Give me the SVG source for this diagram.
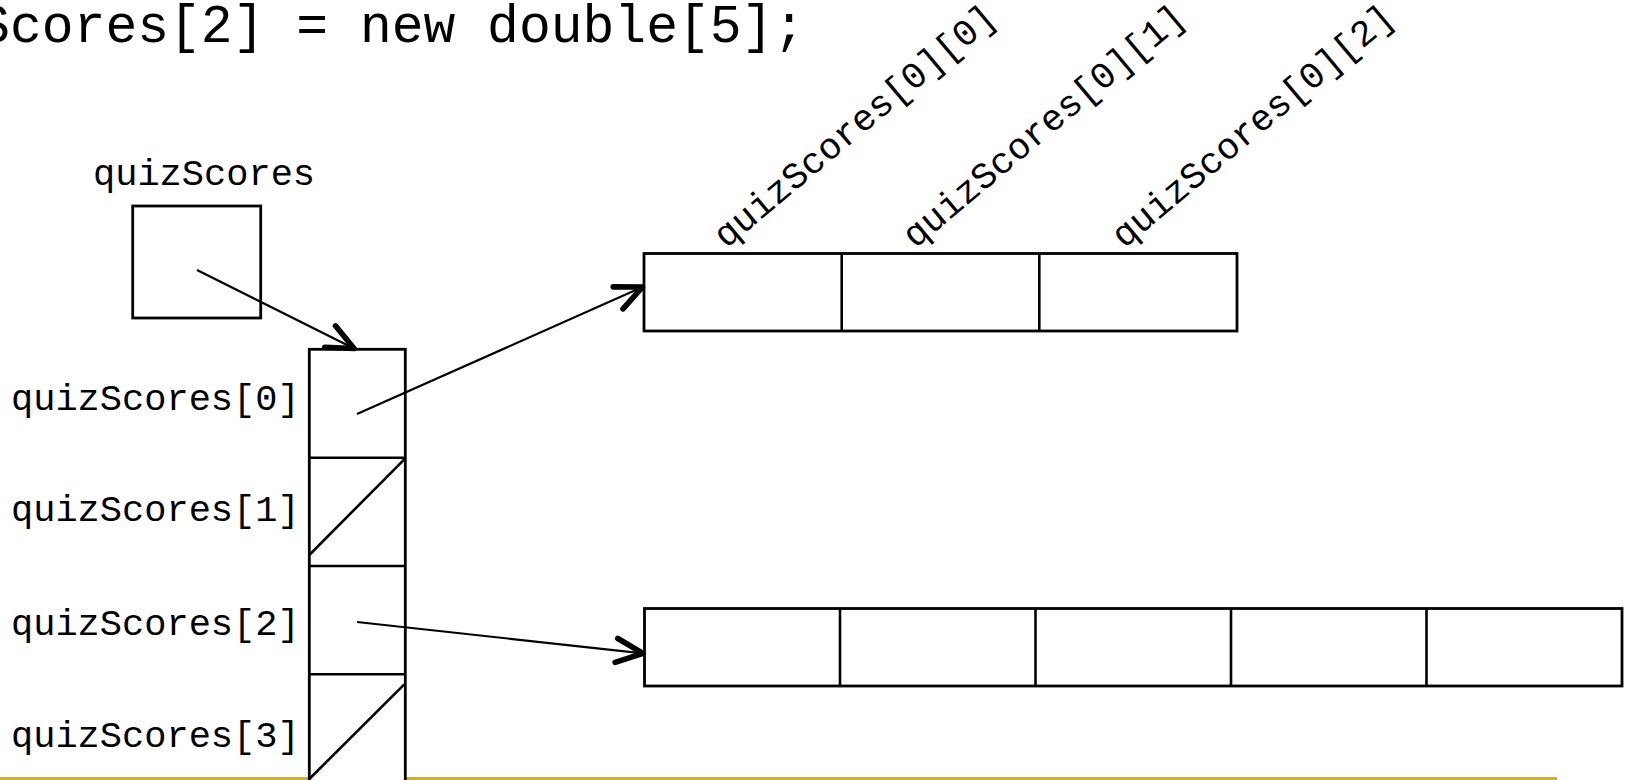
<svg xmlns="http://www.w3.org/2000/svg" width="1627" height="780" viewBox="0 0 1627 780">
<defs>
<style>
text{font-family:"Liberation Mono","DejaVu Sans Mono",monospace;fill:#000;}
.lbl{font-size:37px;}
.code{font-size:53px;}
.cell{fill:#fff;stroke:#000;stroke-width:2.8;}
.div{stroke:#000;stroke-width:2.6;fill:none;}
.conn{stroke:#000;stroke-width:2.2;fill:none;marker-end:url(#arr);}
</style>
<marker id="arr" markerUnits="userSpaceOnUse" markerWidth="40" markerHeight="40" viewBox="-25 -15 30 30" refX="0" refY="0" orient="auto">
<path d="M-20,-9 L0,0 L-20,9" fill="none" stroke="#000" stroke-width="4.2" stroke-linecap="round" stroke-linejoin="round"/>
</marker>
</defs>
<rect width="1627" height="780" fill="#fff"/>
<line x1="0" y1="778.5" x2="1557" y2="778.5" stroke="#D9AE1E" stroke-width="3"/>
<text class="code" x="-149" y="42" xml:space="preserve">quizScores[2] = new double[5];</text>

<g id="quizScores">
<text class="lbl" x="93" y="185">quizScores</text>
<rect class="cell" x="132.7" y="206" width="128" height="112"/>
</g>

<g id="column">
<rect class="cell" x="309.3" y="349.3" width="96" height="440"/>
<line class="div" x1="309.3" y1="457.7" x2="405.3" y2="457.7"/>
<line class="div" x1="309.3" y1="566" x2="405.3" y2="566"/>
<line class="div" x1="309.3" y1="674.3" x2="405.3" y2="674.3"/>
<line class="div" x1="404.3" y1="459.3" x2="309.3" y2="555"/>
<line class="div" x1="404.3" y1="684.3" x2="309.3" y2="779"/>
<text class="lbl" x="11" y="410">quizScores[0]</text>
<text class="lbl" x="11" y="521">quizScores[1]</text>
<text class="lbl" x="11" y="635">quizScores[2]</text>
<text class="lbl" x="11" y="747">quizScores[3]</text>
</g>

<g id="row0">
<rect class="cell" x="644" y="253.5" width="593" height="77.5"/>
<line class="div" x1="841.7" y1="253.5" x2="841.7" y2="331"/>
<line class="div" x1="1039.3" y1="253.5" x2="1039.3" y2="331"/>
<text class="lbl" transform="translate(726,249) rotate(-40)">quizScores[0][0]</text>
<text class="lbl" transform="translate(915,249) rotate(-40)">quizScores[0][1]</text>
<text class="lbl" transform="translate(1124,249) rotate(-40)">quizScores[0][2]</text>
</g>

<g id="row2">
<rect class="cell" x="644.5" y="608.5" width="977.5" height="77.5"/>
<line class="div" x1="840" y1="608.5" x2="840" y2="686"/>
<line class="div" x1="1035.5" y1="608.5" x2="1035.5" y2="686"/>
<line class="div" x1="1231" y1="608.5" x2="1231" y2="686"/>
<line class="div" x1="1426.5" y1="608.5" x2="1426.5" y2="686"/>
</g>

<g id="connectors">
<line class="conn" x1="197" y1="270" x2="354" y2="348.5"/>
<line class="conn" x1="357" y1="414" x2="642.5" y2="287"/>
<line class="conn" x1="357" y1="622" x2="643" y2="653.3"/>
</g>
</svg>
